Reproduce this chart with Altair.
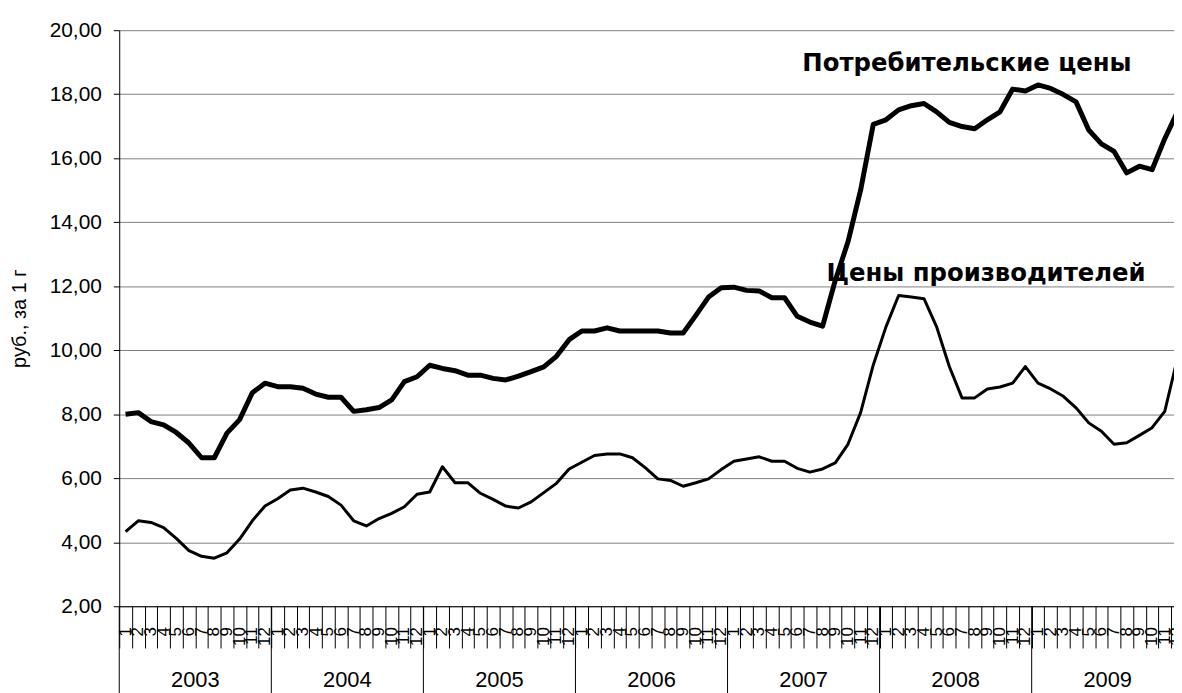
import altair as alt
import pandas as pd

years = [2003, 2004, 2005, 2006, 2007, 2008, 2009]
months = list(range(1, 13))

consumer = [
    8.00, 8.05, 7.77, 7.67, 7.43, 7.10, 6.64, 6.64, 7.41, 7.83, 8.67, 8.97,
    8.86, 8.86, 8.81, 8.63, 8.53, 8.53, 8.09, 8.14, 8.21, 8.45, 9.02, 9.17,
    9.53, 9.43, 9.36, 9.22, 9.22, 9.12, 9.07, 9.19, 9.33, 9.48, 9.81, 10.33,
    10.60, 10.60, 10.70, 10.60, 10.60, 10.60, 10.60, 10.54, 10.54, 11.09, 11.66, 11.95,
    11.97, 11.87, 11.85, 11.64, 11.64, 11.06, 10.88, 10.75, 12.18, 13.38, 15.00, 17.06,
    17.20, 17.51, 17.64, 17.71, 17.45, 17.12, 16.99, 16.92, 17.20, 17.45, 18.16, 18.10,
    18.29, 18.18, 17.99, 17.76, 16.88, 16.45, 16.21, 15.54, 15.75, 15.64, 16.61, 17.45,
]

producer = [
    4.33, 4.67, 4.62, 4.46, 4.12, 3.74, 3.56, 3.50, 3.67, 4.10, 4.67, 5.13,
    5.36, 5.63, 5.69, 5.57, 5.43, 5.16, 4.67, 4.51, 4.74, 4.90, 5.11, 5.50,
    5.57, 6.36, 5.86, 5.86, 5.53, 5.34, 5.13, 5.07, 5.26, 5.55, 5.84, 6.29,
    6.50, 6.71, 6.76, 6.76, 6.64, 6.33, 5.98, 5.93, 5.75, 5.86, 5.98, 6.27,
    6.53, 6.60, 6.67, 6.53, 6.53, 6.31, 6.19, 6.29, 6.48, 7.06, 8.05, 9.54,
    10.73, 11.71, 11.66, 11.61, 10.73, 9.49, 8.51, 8.51, 8.79, 8.85, 8.97, 9.49,
    8.97, 8.79, 8.56, 8.20, 7.73, 7.47, 7.06, 7.11, 7.34, 7.58, 8.09, 9.75,
]

series_names = ["Потребительские цены", "Цены производителей"]
label_month_pos = [53.9, 55.8]     # month-index position of each series label
label_value_pos = [18.72, 12.15]   # value position of each series label
y_ticks = [2, 4, 6, 8, 10, 12, 14, 16, 18, 20]
y_title = "руб., за 1 г"

FONT = "Liberation Sans"
N = len(years) * len(months)
X_MAX = 83.23  # visible part of the category axis (chart is cut at the right)

# ---- tables ----
lines_df = pd.DataFrame({
    "t": [i + 0.5 for i in range(N)] * 2,
    "value": consumer + producer,
    "series": [series_names[0]] * N + [series_names[1]] * N,
})
month_df = pd.DataFrame({
    "t": [i + 0.5 for i in range(N)],
    "label": [str(m) for _ in years for m in months],
})
year_df = pd.DataFrame({
    "t": [k * 12 + 6 for k in range(len(years))],
    "label": [str(y) for y in years],
})
year_bound_df = pd.DataFrame({"t": [k * 12 for k in range(len(years) + 1)]})
ann_df = pd.DataFrame({"t": label_month_pos, "value": label_value_pos, "label": series_names})

xscale = alt.Scale(domain=[0, X_MAX], nice=False, zero=False)
yscale = alt.Scale(domain=[2, 20], nice=False, zero=False)

x_axis = alt.Axis(
    values=list(range(0, N + 1)), labels=False, tickSize=42, tickColor="black",
    tickWidth=1, domainColor="black", domainWidth=1, grid=False, title=None,
)
y_axis = alt.Axis(
    values=y_ticks,
    labelExpr="replace(format(datum.value, '.2f'), '.', ',')",
    labelFontSize=21, labelColor="black", labelPadding=12, labelFont=FONT,
    tickSize=6, tickColor="black", domainColor="black", domainWidth=1,
    grid=True, gridColor="#808080", gridWidth=1,
    title=y_title, titleFontSize=20, titleFontWeight="normal", titleColor="black",
    titleFont=FONT, titleX=-100, titleY=290, titleAlign="center", titleBaseline="middle",
)

X = alt.X("t:Q", scale=xscale, axis=x_axis)
Y = alt.Y("value:Q", scale=yscale, axis=y_axis)

base = alt.Chart(lines_df)

consumer_line = base.transform_filter(
    alt.datum.series == series_names[0]
).mark_line(color="black", strokeWidth=5, clip=True, strokeJoin="round").encode(x=X, y=Y)

producer_line = base.transform_filter(
    alt.datum.series == series_names[1]
).mark_line(color="black", strokeWidth=3, clip=True, strokeJoin="round").encode(x=X, y=Y)

year_rules = alt.Chart(year_bound_df).mark_rule(color="black", strokeWidth=1).encode(
    x=X,
    y=alt.value(580),
    y2=alt.value(720),
)

month_labels = alt.Chart(month_df).mark_text(
    angle=270, align="right", baseline="middle", fontSize=17, font=FONT, color="black"
).encode(
    x=X,
    y=alt.value(601),
    text="label:N",
)

year_labels = alt.Chart(year_df).mark_text(
    align="center", baseline="alphabetic", fontSize=22, font=FONT, color="black"
).encode(
    x=X,
    y=alt.value(661),
    text="label:N",
)

annotations = alt.Chart(ann_df).mark_text(
    align="left", baseline="alphabetic", fontSize=24.5, fontWeight="bold",
    font="DejaVu Sans", color="black"
).encode(
    x=X,
    y=Y,
    text="label:N",
)

chart = alt.layer(
    consumer_line, producer_line, year_rules, month_labels, year_labels, annotations
).properties(
    width=1062,
    height=580,
    autosize=alt.AutoSizeParams(type="none"),
    padding={"left": 112, "top": 20, "right": 0, "bottom": 85},
).configure(font=FONT).configure_view(stroke=None)

chart.save("out.html", embed_options={"renderer": "svg", "actions": False})
